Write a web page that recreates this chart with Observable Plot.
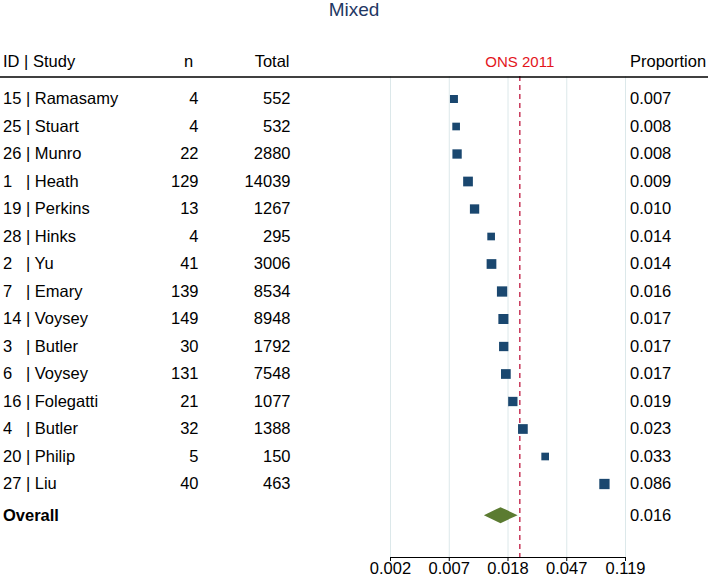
<!DOCTYPE html>
<html><head><meta charset="utf-8">
<script src="https://cdn.jsdelivr.net/npm/d3@7"></script>
<script src="https://cdn.jsdelivr.net/npm/@observablehq/plot@0.6"></script>
<style>
body{margin:0;background:#fff;}
#wrap{position:relative;width:708px;height:579px;font-family:"Liberation Sans",Arial,sans-serif;}
#title{position:absolute;top:0;left:0;width:708px;text-align:center;font-size:19px;line-height:19px;color:#1f3864;}
#chart{position:absolute;top:0;left:0;}
</style></head><body>
<div id="wrap"><div id="chart"></div><div id="title">Mixed</div></div>
<script>
// ---- data ----
const ids = ["15","25","26","1","19","28","2","7","14","3","6","16","4","20","27"];
const studies = ["Ramasamy","Stuart","Munro","Heath","Perkins","Hinks","Yu","Emary","Voysey","Butler","Voysey","Folegatti","Butler","Philip","Liu"];
const nEvents = [4,4,22,129,13,4,41,139,149,30,131,21,32,5,40];
const totals = [552,532,2880,14039,1267,295,3006,8534,8948,1792,7548,1077,1388,150,463];
const propLabels = ["0.007","0.008","0.008","0.009","0.010","0.014","0.014","0.016","0.017","0.017","0.017","0.019","0.023","0.033","0.086"];
const weights = [5.0,4.6,6.8,7.4,6.8,4.6,7.4,8.3,7.9,6.8,7.4,6.8,7.4,4.6,8.3];
const overallEst = 0.0160, overallLo = 0.0121, overallHi = 0.0213, overallLabel = "0.016";
const onsRef = 0.0219, onsLabel = "ONS 2011";
const tickLogits = [-6,-5,-4,-3,-2];
const tickLabels = ["0.002","0.007","0.018","0.047","0.119"];
const headers = {study:"ID | Study", n:"n", total:"Total", prop:"Proportion"};

// ---- build ----
const logit = p => Math.log(p/(1-p));
const rows = studies.map((s,i)=>({
  id: ids[i], study: "| " + s, n: String(nEvents[i]), total: String(totals[i]),
  lx: logit(nEvents[i]/totals[i]), w: weights[i], label: propLabels[i], row: i
}));
const overallRow = 15.15;
const headerRow = -1.34;
const halfH = 8/27.5;
const diamond = [
  {x: logit(overallLo), y1: overallRow, y2: overallRow},
  {x: logit(overallEst), y1: overallRow - halfH, y2: overallRow + halfH},
  {x: logit(overallHi), y1: overallRow, y2: overallRow}
];
const FS = 16.5;
const L = 390, R = 625;
const hdr = [{row: headerRow}];

const chart = Plot.plot({
  width: 708, height: 579,
  marginLeft: L, marginRight: 708 - R, marginTop: 76, marginBottom: 22,
  style: {fontFamily: "'Liberation Sans', Arial, sans-serif", fontSize: FS + "px", color: "#000", background: "transparent", overflow: "visible"},
  x: {type: "linear", domain: [-6, -2], label: null},
  y: {type: "linear", domain: [0, 14], range: [98.5, 98.5 + 14*27.5], axis: null},
  r: {type: "sqrt", domain: [0, 8.3], range: [0, 5.81]},
  marks: [
    Plot.gridX(tickLogits, {stroke: "#dce8ea", strokeOpacity: 1, strokeWidth: 1}),
    Plot.ruleX([logit(onsRef)], {stroke: "#c8375a", strokeDasharray: "5,4", strokeWidth: 1.5}),
    Plot.dot(rows, {x: "lx", y: "row", r: "w", symbol: "square", fill: "#1a476f"}),
    Plot.areaY(diamond, {x: "x", y1: "y1", y2: "y2", fill: "#5b7b31"}),
    // table columns
    Plot.text(rows, {y: "row", text: "id", frameAnchor: "left", dx: 2.5 - L, textAnchor: "start", fontSize: FS}),
    Plot.text(rows, {y: "row", text: "study", frameAnchor: "left", dx: 25.4 - L, textAnchor: "start", fontSize: FS}),
    Plot.text(rows, {y: "row", text: "n", frameAnchor: "left", dx: 198 - L, textAnchor: "end", fontSize: FS}),
    Plot.text(rows, {y: "row", text: "total", frameAnchor: "left", dx: 290 - L, textAnchor: "end", fontSize: FS}),
    Plot.text(rows, {y: "row", text: "label", frameAnchor: "right", dx: 629.5 - R, textAnchor: "start", fontSize: FS}),
    // overall row
    Plot.text([{row: overallRow}], {y: "row", text: () => "Overall", frameAnchor: "left", dx: 2.5 - L, textAnchor: "start", fontSize: FS, fontWeight: "bold"}),
    Plot.text([{row: overallRow}], {y: "row", text: () => overallLabel, frameAnchor: "right", dx: 629.5 - R, textAnchor: "start", fontSize: FS}),
    // headers
    Plot.text(hdr, {y: "row", text: () => headers.study, frameAnchor: "left", dx: 2.5 - L, textAnchor: "start", fontSize: FS}),
    Plot.text(hdr, {y: "row", text: () => headers.n, frameAnchor: "left", dx: 188 - L, textAnchor: "middle", fontSize: FS}),
    Plot.text(hdr, {y: "row", text: () => headers.total, frameAnchor: "left", dx: 289 - L, textAnchor: "end", fontSize: FS}),
    Plot.text(hdr, {y: "row", text: () => headers.prop, frameAnchor: "right", dx: 629.5 - R, textAnchor: "start", fontSize: FS}),
    Plot.text([{x: logit(onsRef), row: headerRow}], {x: "x", y: "row", text: () => onsLabel, textAnchor: "middle", fill: "#e3141b", fontSize: 15}),
    // header rule
    Plot.ruleY([-0.8], {stroke: "#000", strokeWidth: 1.6, insetLeft: -L, insetRight: -(708 - R)}),
    // axis
    Plot.frame({anchor: "bottom", stroke: "#000", strokeWidth: 1}),
    Plot.axisX({ticks: tickLogits, tickFormat: (d) => tickLabels[tickLogits.indexOf(d)], tickSize: 4, tickPadding: 1, fontSize: FS, stroke: "#000"})
  ]
});
document.getElementById("chart").appendChild(chart);
</script>
</body></html>
